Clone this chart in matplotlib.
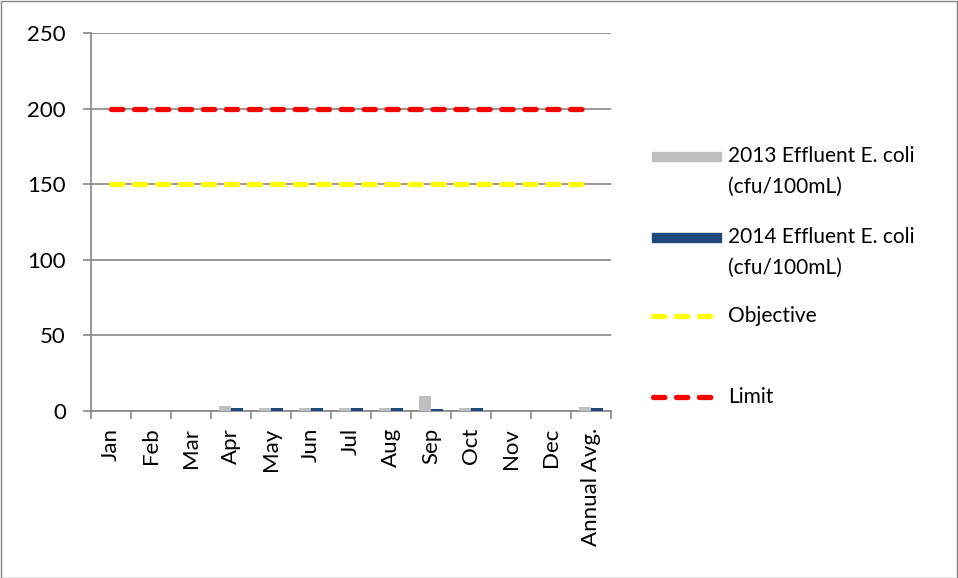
import matplotlib
matplotlib.use("Agg")
import matplotlib.pyplot as plt
from matplotlib.lines import Line2D
from matplotlib.patches import Rectangle
import numpy as np

plt.rcParams['font.family'] = ['Lato', 'DejaVu Sans']

months = ["Jan", "Feb", "Mar", "Apr", "May", "Jun", "Jul", "Aug", "Sep", "Oct",
          "Nov", "Dec", "Annual Avg."]
ecoli_2013 = [0, 0, 0, 3, 2, 2, 2, 2, 10, 2, 0, 0, 2.5]
ecoli_2014 = [0, 0, 0, 2, 2, 2, 2, 2, 1, 2, 0, 0, 2]
objective = [150] * len(months)
limit = [200] * len(months)
series_labels = ["2013 Effluent E. coli\n(cfu/100mL)", "2014 Effluent E. coli\n(cfu/100mL)",
                 "Objective", "Limit"]

W, H = 958, 578
FS = 16
FS_LEG = 15
fig = plt.figure(figsize=(W / 100, H / 100), dpi=100)
ax = fig.add_axes([91 / W, 1 - 411 / H, 520 / W, 378 / H])

x = np.arange(len(months))
w = 0.29
grey = "#bfbfbf"
navy = "#1f497d"
yellow = "#ffff00"
red = "#ff0000"
dash_kw = dict(lw=3.8, dashes=(2.15, 2.2), dash_capstyle="round")

ax.bar(x - w / 2, ecoli_2013, width=w, color=grey, zorder=3)
ax.bar(x + w / 2, ecoli_2014, width=w, color=navy, zorder=3)
ax.plot(x, objective, color=yellow, zorder=4, **dash_kw)
ax.plot(x, limit, color=red, zorder=4, **dash_kw)

ax.set_xlim(-0.5, len(months) - 0.5)
ax.set_ylim(0, 250)
ax.set_yticks(range(0, 251, 50))
ax.yaxis.grid(True, color="#868686", lw=1.2)
ax.set_axisbelow(True)
for side in ("top", "right"):
    ax.spines[side].set_visible(False)
for side in ("left", "bottom"):
    ax.spines[side].set_color("#868686")
    ax.spines[side].set_linewidth(1.2)
ax.set_xticks(x)
ax.set_xticklabels(months, rotation=90, fontsize=FS)
ax.tick_params(axis="x", length=0, pad=12)
ax.set_xticks(np.arange(-0.5, len(months), 1), minor=True)
ax.tick_params(axis="x", which="minor", length=6, width=1.2, color="#868686")
ax.tick_params(axis="y", labelsize=FS, length=6, width=1.2, color="#868686", pad=12)

# legend drawn in pixel coordinates on the figure
def fx(px):
    return px / W

def fy(py):
    return 1 - py / H

row_y = [156, 237, 316, 397]
line_gap = 31
handles = ["patch", "patch", "line", "line"]
colors = [grey, navy, yellow, red]
for lab, yy, kind, col in zip(series_labels, row_y, handles, colors):
    if kind == "patch":
        fig.patches.append(Rectangle((fx(652), fy(yy + 4.5)), 69 / W, 9 / H,
                                     transform=fig.transFigure, color=col))
    else:
        fig.lines.append(Line2D([fx(653), fx(711)], [fy(yy), fy(yy)],
                                transform=fig.transFigure, color=col, **dash_kw))
    for i, line in enumerate(lab.split("\n")):
        fig.text(fx(728), fy(yy + i * line_gap), line, fontsize=FS_LEG,
                 va="center", ha="left")

fig.patches.append(Rectangle((0.5 / W, 0.5 / H), 1 - 1.5 / W, 1 - 1.5 / H,
                             transform=fig.transFigure, fill=False,
                             edgecolor="#868686", lw=1))
fig.savefig("out.png", dpi=100)
